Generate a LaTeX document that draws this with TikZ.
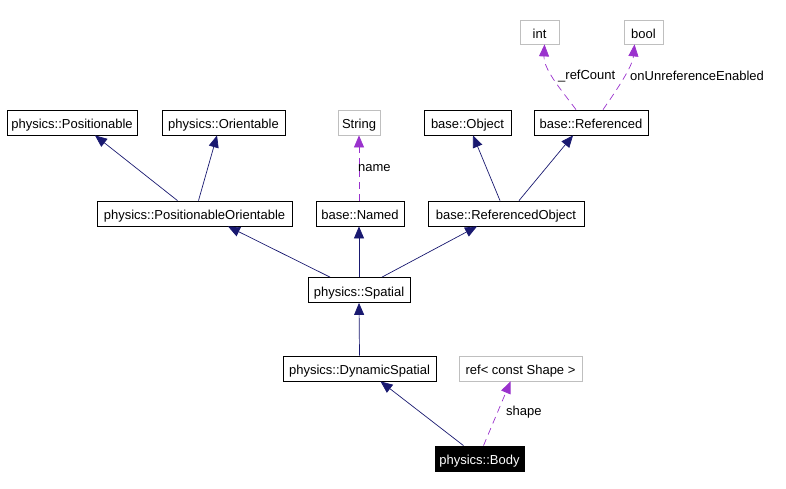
\documentclass[tikz,border=0pt]{standalone}
\usepackage{fontspec}
\setmainfont{Liberation Sans}
\usetikzlibrary{arrows.meta}
\definecolor{inh}{HTML}{191970}
\definecolor{use}{HTML}{9A32CD}
\definecolor{lgray}{HTML}{BFBFBF}
\begin{document}
\begin{tikzpicture}[x=1pt,y=-1pt,
  cls/.style={draw=black,line width=0.8pt,minimum height=25pt,inner sep=0pt,text height=12pt,text depth=0pt,font=\fontsize{13}{15}\selectfont},
  ext/.style={cls,draw=lgray},
  inhedge/.style={draw=inh,line width=0.7pt,-{Triangle[length=12pt,width=10pt]}},
  useedge/.style={draw=use,line width=0.7pt,dash pattern=on 7pt off 5pt,-{Triangle[length=12pt,width=10pt]}},
  lbl/.style={font=\fontsize{13}{15}\selectfont,inner sep=0pt}]
\useasboundingbox (0,0) rectangle (786,488);
\node[cls,minimum width=130pt] (pos) at (72,122.5) {physics::Positionable};
\node[cls,minimum width=123pt] (ori) at (223.5,122.5) {physics::Orientable};
\node[cls,minimum width=195pt] (posor) at (194.5,213.5) {physics::PositionableOrientable};
\node[ext,minimum width=42pt] (string) at (359,122.5) {String};
\node[cls,minimum width=88pt] (named) at (360,213.5) {base::Named};
\node[cls,minimum width=87pt] (object) at (467.5,122.5) {base::Object};
\node[cls,minimum width=114pt] (referenced) at (591,122.5) {base::Referenced};
\node[cls,minimum width=156pt] (refobj) at (506,213.5) {base::ReferencedObject};
\node[ext,minimum width=39pt,minimum height=24pt] (int) at (539.5,32) {int};
\node[ext,minimum width=39pt,minimum height=24pt] (bool) at (643.5,32) {bool};
\node[cls,minimum width=102pt] (spatial) at (359,290) {physics::Spatial};
\node[cls,minimum width=153pt] (dyn) at (359.5,368.5) {physics::DynamicSpatial};
\node[ext,minimum width=123pt] (ref) at (520.5,368.5) {ref< const Shape >};
\node[cls,fill=black,text=white,minimum width=89pt] (body) at (479.5,458.5) {physics::Body};

\draw[inhedge] ([xshift=-17pt]posor.north) -- ([xshift=23pt]pos.south);
\draw[inhedge] ([xshift=4pt]posor.north) -- ([xshift=-6.5pt]ori.south);
\draw[useedge] ([xshift=-1pt]named.north) -- (string.south);
\draw[inhedge] ([xshift=-6pt]refobj.north) -- ([xshift=5.5pt]object.south);
\draw[inhedge] ([xshift=13pt]refobj.north) -- ([xshift=-18pt]referenced.south);
\draw[useedge] ([xshift=-15pt]referenced.north) .. controls +(-15,-20) and +(-1,25) .. ([xshift=5pt]int.south);
\draw[useedge] ([xshift=12pt]referenced.north) .. controls +(14,-20) and +(-2,22) .. ([xshift=-9pt]bool.south);
\draw[inhedge] ([xshift=-29pt]spatial.north) -- ([xshift=33.5pt]posor.south);
\draw[inhedge] (spatial.north) -- ([xshift=-1pt]named.south);
\draw[inhedge] ([xshift=23pt]spatial.north) -- ([xshift=-29pt]refobj.south);
\draw[inhedge] (dyn.north) -- (spatial.south);
\draw[inhedge] ([xshift=-16pt]body.north) -- ([xshift=21pt]dyn.south);
\draw[useedge] ([xshift=4pt]body.north) -- ([xshift=-10pt]ref.south);

\node[lbl,anchor=west] (lname) at (358,168) {name};
\node[lbl,anchor=west] (lrc) at (558,76) {\_refCount};
\node[lbl,anchor=west] (lon) at (630,76) {onUnreferenceEnabled};
\node[lbl,anchor=west] (lshape) at (506,412) {shape};
\end{tikzpicture}
\end{document}
